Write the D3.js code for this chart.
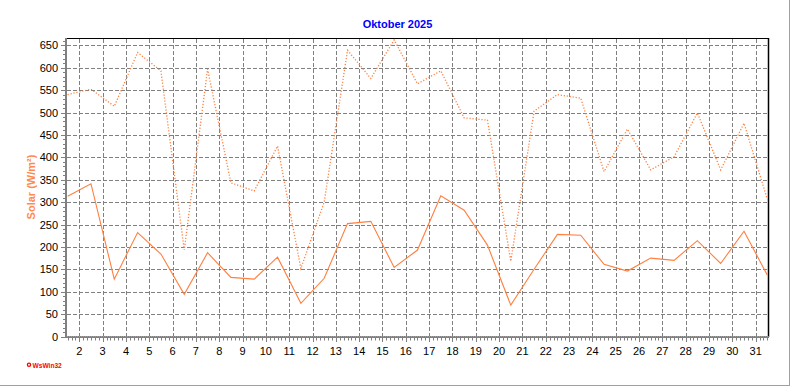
<!DOCTYPE html>
<html><head><meta charset="utf-8">
<script src="https://cdn.jsdelivr.net/npm/d3@7/dist/d3.min.js"></script>
<style>html,body{margin:0;padding:0;background:#fff;}svg{display:block;}</style>
</head><body>
<script>
const title = "Oktober 2025";
const yLabel = "Solar (W/m²)";
const days = d3.range(1, 32);
const maxSolar = [540,552,514,634,593,193,597,343,325,425,152,300,639,576,662,564,593,488,483,168,503,540,532,368,463,372,401,499,372,476,306];
const avgSolar = [313,341,128,232,184,94,187,132,128,177,74,130,252,257,154,193,314,282,204,70,150,228,226,161,146,175,170,214,163,235,137];
const xTickDays = d3.range(2, 32);
const yTicks = d3.range(0, 651, 50);

const W = 792, H = 387;
const svg = d3.select("body").append("svg").attr("width", W).attr("height", H);
const x = d3.scaleLinear().domain([1.43, 31.55]).range([66, 768.5]);
const y = d3.scaleLinear().domain([0, 666.3]).range([336.5, 38]);
const col = "#ff7f3f";
const font = "'Liberation Sans', Arial, sans-serif";

// outer frame
svg.append("line").attr("x1", 789.5).attr("x2", 789.5).attr("y1", 0).attr("y2", 386).attr("stroke", "#a0a0a0");
svg.append("line").attr("x1", 0).attr("x2", 790).attr("y1", 385.5).attr("y2", 385.5).attr("stroke", "#a0a0a0");

// grid
const g = svg.append("g");
g.selectAll(".hg").data(yTicks.filter(v => v > 0)).enter().append("line")
  .attr("x1", 67).attr("x2", 768).attr("y1", d => Math.round(y(d)) + 0.5).attr("y2", d => Math.round(y(d)) + 0.5)
  .attr("stroke", "#808080").attr("stroke-dasharray", "4,2");
g.selectAll(".vg").data(xTickDays).enter().append("line")
  .attr("y1", 39).attr("y2", 336).attr("x1", d => Math.round(x(d)) + 0.5).attr("x2", d => Math.round(x(d)) + 0.5)
  .attr("stroke", "#808080").attr("stroke-dasharray", "4,2");

// borders
svg.append("line").attr("x1", 66).attr("x2", 769).attr("y1", 38.5).attr("y2", 38.5).attr("stroke", "#000");
svg.append("line").attr("x1", 768.5).attr("x2", 768.5).attr("y1", 38).attr("y2", 337).attr("stroke", "#000").attr("stroke-width", 1.5);

// y axis
svg.append("line").attr("x1", 66).attr("x2", 66).attr("y1", 38).attr("y2", 338).attr("stroke", "#808080").attr("stroke-width", 2);
svg.selectAll(".ymt").data(d3.range(0, 661, 10)).enter().append("line")
  .attr("x1", d => d % 50 === 0 ? 61 : 63).attr("x2", 65)
  .attr("y1", d => Math.round(y(d)) + 0.5).attr("y2", d => Math.round(y(d)) + 0.5)
  .attr("stroke", "#808080");
svg.selectAll(".yl").data(yTicks).enter().append("text")
  .attr("x", 58).attr("y", d => y(d) + 4).attr("text-anchor", "end")
  .attr("font-family", font).attr("font-size", 11).attr("fill", "#000").text(d => d);

// x axis
svg.append("line").attr("x1", 65).attr("x2", 769).attr("y1", 337).attr("y2", 337).attr("stroke", "#808080").attr("stroke-width", 2);
svg.append("line").attr("x1", 67).attr("x2", 768).attr("y1", 336.5).attr("y2", 336.5).attr("stroke", col).attr("stroke-dasharray", "1,1");
const minor = d3.range(1.5, 31.56, 1/6).filter(d => x(d) >= 66 && x(d) <= 769);
svg.selectAll(".xmt").data(minor).enter().append("line")
  .attr("x1", d => Math.round(x(d)) + 0.5).attr("x2", d => Math.round(x(d)) + 0.5)
  .attr("y1", 338).attr("y2", 340.5).attr("stroke", "#808080");
svg.selectAll(".xMt").data(xTickDays).enter().append("line")
  .attr("x1", d => Math.round(x(d)) + 0.5).attr("x2", d => Math.round(x(d)) + 0.5)
  .attr("y1", 338).attr("y2", 342).attr("stroke", "#808080");
svg.selectAll(".xl").data(xTickDays).enter().append("text")
  .attr("x", d => x(d)).attr("y", 355).attr("text-anchor", "middle")
  .attr("font-family", font).attr("font-size", 11).attr("fill", "#000").text(d => d);

// series
const line = d3.line().x((d, i) => x(days[i] + 0.5)).y(d => y(d));
svg.append("path").datum(maxSolar).attr("d", line).attr("fill", "none")
  .attr("stroke", col).attr("stroke-width", 1.3).attr("stroke-dasharray", "1.2,1.8");
svg.append("path").datum(avgSolar).attr("d", line).attr("fill", "none")
  .attr("stroke", col).attr("stroke-width", 1.1);

// title
svg.append("text").attr("x", 397.5).attr("y", 28).attr("text-anchor", "middle")
  .attr("font-family", font).attr("font-size", 11).attr("font-weight", "bold").attr("fill", "#0000ff").text(title);

// y label
svg.append("text").attr("transform", "translate(35,187) rotate(-90)").attr("text-anchor", "middle")
  .attr("font-family", font).attr("font-size", 11).attr("font-weight", "bold").attr("fill", "#ff8a50").text(yLabel);

// logo
svg.append("circle").attr("cx", 29).attr("cy", 364.8).attr("r", 1.6).attr("fill", "#fff").attr("stroke", "#ff0000").attr("stroke-width", 1.3);
svg.append("text").attr("x", 32.5).attr("y", 367.5).attr("font-family", font).attr("font-size", 6.6)
  .attr("font-weight", "bold").attr("fill", "#ff0000").text("WsWin32");
</script>
</body></html>
